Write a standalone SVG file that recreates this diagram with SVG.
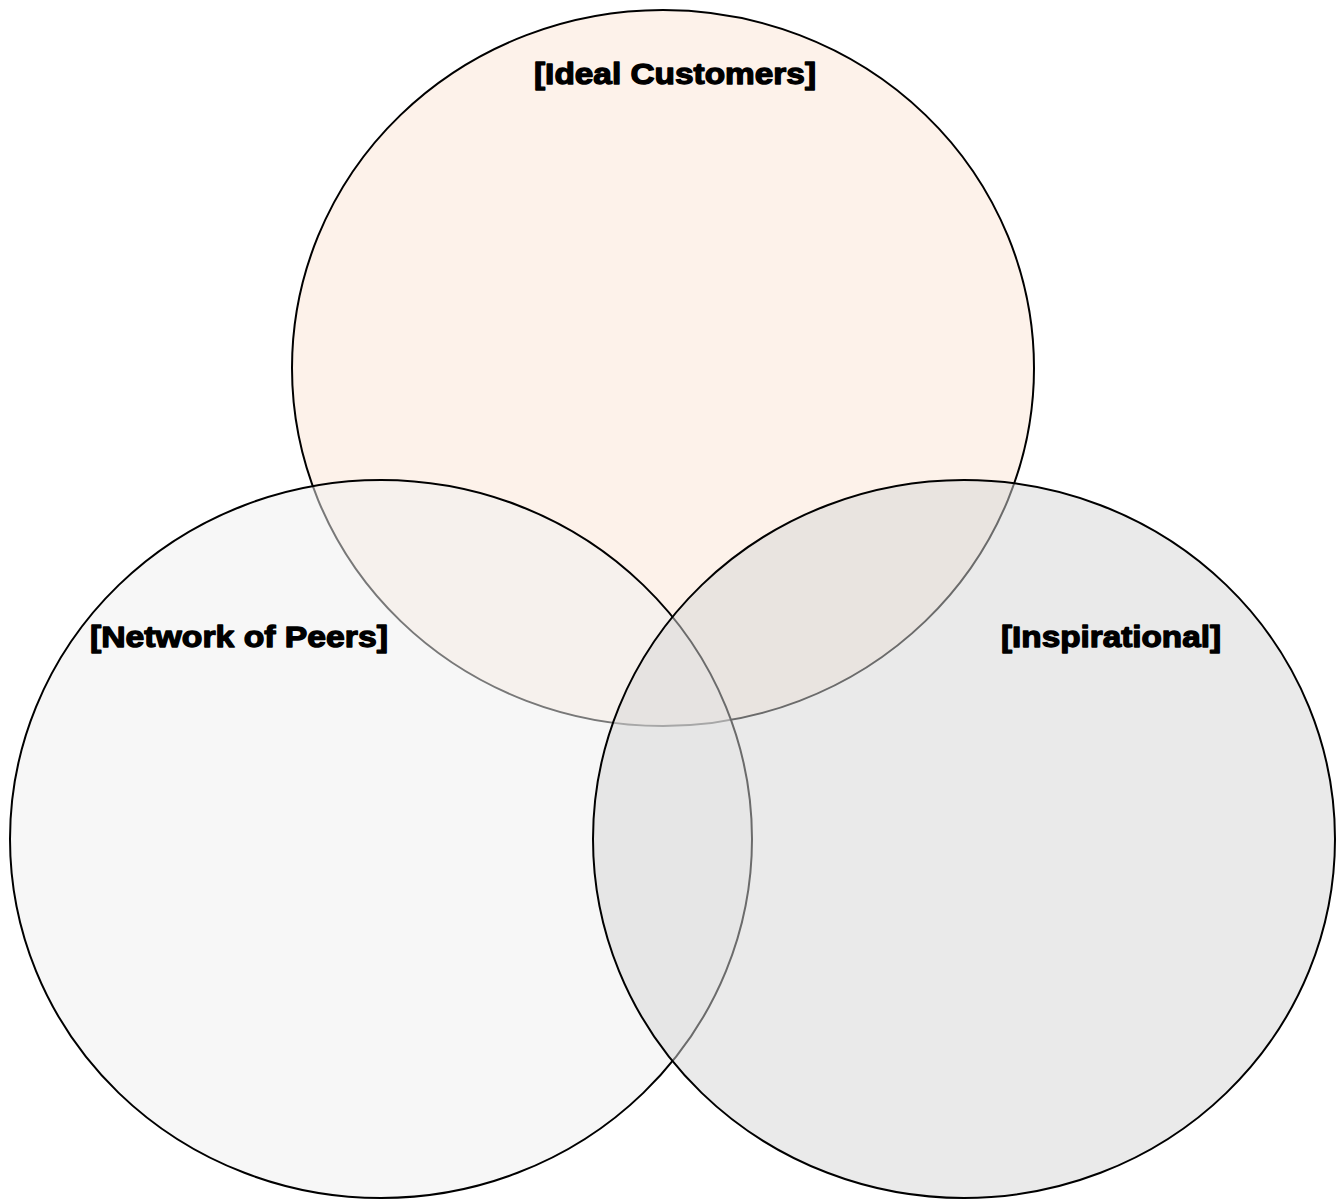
<svg xmlns="http://www.w3.org/2000/svg" width="1344" height="1199" viewBox="0 0 1344 1199">
<style>
.c{stroke:#000;stroke-width:2}
.t{font-family:"Liberation Sans",Arial,sans-serif;font-weight:bold;font-size:30px;fill:#000;stroke:#000;stroke-width:1.3;stroke-linejoin:round}
</style>
<rect width="1344" height="1199" fill="#fff"/>
<g id="ideal-customers">
<ellipse class="c" cx="663" cy="368" rx="371" ry="358" fill="#FDF2EA"/>
</g>
<g id="network-of-peers">
<ellipse class="c" cx="381" cy="839" rx="371" ry="359" fill="#F0F0F0" fill-opacity="0.5"/>
</g>
<g id="inspirational">
<ellipse class="c" cx="964" cy="839" rx="371" ry="359" fill="#D6D6D6" fill-opacity="0.5"/>
</g>
<g id="connectors"></g>
<g id="labels">
<text class="t" x="534" y="84" textLength="282" lengthAdjust="spacingAndGlyphs">[Ideal Customers]</text>
<text class="t" x="90" y="647" textLength="298" lengthAdjust="spacingAndGlyphs">[Network of Peers]</text>
<text class="t" x="1001" y="647" textLength="220" lengthAdjust="spacingAndGlyphs">[Inspirational]</text>
</g>
</svg>
